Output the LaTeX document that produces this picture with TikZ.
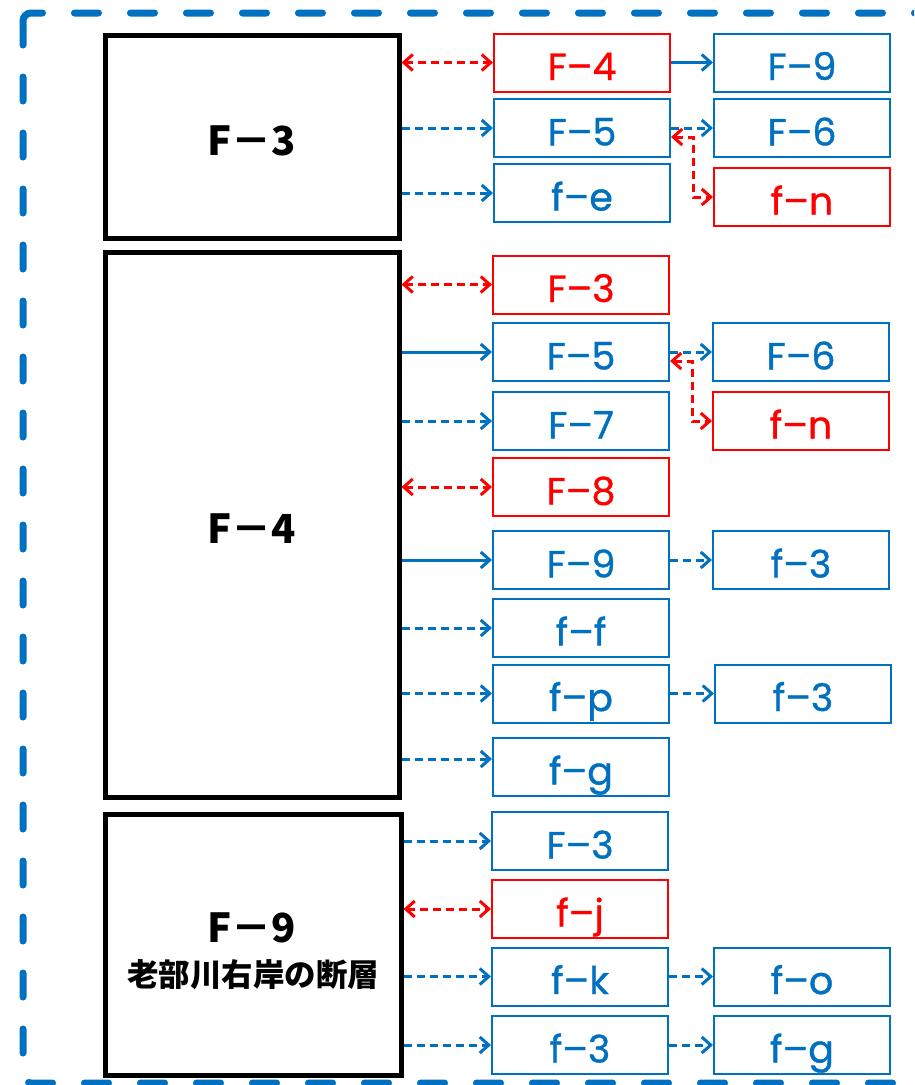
\documentclass[tikz,border=0pt]{standalone}
\usepackage{fontspec}
\setmainfont{Noto Sans CJK JP}
\newfontfamily\labelfont[FakeBold=1]{Poppins}
\usepackage{tikz}
\usepackage{xcolor}
\usetikzlibrary{arrows.meta, positioning}
\definecolor{faultBlue}{RGB}{0,112,192}
\definecolor{faultRed}{RGB}{255,0,0}
\tikzset{
    mainbox/.style={
        rectangle,
        draw=black,
        line width=5pt,
        minimum width=294pt,
        align=center,
        text height=38pt,
        font=\fontsize{40}{46}\selectfont\bfseries
    },
    bluebox/.style={
        rectangle,
        draw=faultBlue,
        line width=2pt,
        text=faultBlue,
        minimum width=176pt,
        minimum height=58pt,
        text height=35pt,
        text depth=0pt,
        font=\labelfont\fontsize{38}{38}\selectfont
    },
    redbox/.style={bluebox, draw=faultRed, text=faultRed},
    solidarrow/.style={-{Straight Barb[length=9pt,width=16pt]}, line width=3pt, draw=faultBlue},
    dasharrow/.style={solidarrow, dash pattern=on 8pt off 5pt},
    redarrow/.style={{Straight Barb[length=9pt,width=16pt]}-{Straight Barb[length=9pt,width=16pt]}, line width=3pt, draw=faultRed, dash pattern=on 8pt off 5pt},
    frameline/.style={draw=faultBlue, line width=7pt, line cap=round, dash pattern=on 24pt off 32pt, rounded corners=8pt}
}

\begin{document}
\begin{tikzpicture}[x=1pt, y=-1pt, node distance=42pt]
    \clip (0,0) rectangle (914,1085);
    \draw[frameline] (23,13) rectangle (960,1083);

    \node[mainbox, minimum height=203pt] (F3main) at (252,136.5) {F－3};
    \node[mainbox, minimum height=545pt] (F4main) at (252,524.5) {F－4};
    \node[mainbox, minimum height=261pt, minimum width=296pt] (F9main) at (253,944.5) {};
    \node[font=\fontsize{40}{46}\selectfont\bfseries] (F9label) at (252,928) {F－9};
    \node[font=\fontsize{31.5}{31.5}\selectfont\bfseries] (F9place) at (253,975) {老部川右岸の断層};

    \node[redbox] (s1F4) at (582,62.5) {F–4};
    \node[bluebox, right=of s1F4] (s1F9) {F–9};
    \node[bluebox] (s1F5) at (582,128) {F–5};
    \node[bluebox, right=of s1F5] (s1F6) {F–6};
    \node[bluebox] (s1fe) at (582,193) {f–e};
    \node[redbox, below=9pt of s1F6] (s1fn) {f–n};
    \draw[redarrow] (F3main.east |- s1F4.west) -- (s1F4.west);
    \draw[dasharrow] (F3main.east |- s1F5.west) -- (s1F5.west);
    \draw[dasharrow] (F3main.east |- s1fe.west) -- (s1fe.west);
    \draw[solidarrow] (s1F4) -- (s1F9);
    \draw[dasharrow] (s1F5) -- (s1F6);
    \draw[redarrow] ([yshift=-9pt]s1F5.east) -- ++(22,0) |- (s1fn.west);

    \node[redbox] (s2F3) at (581,284.5) {F–3};
    \node[bluebox] (s2F5) at (581,352) {F–5};
    \node[bluebox, right=of s2F5] (s2F6) {F–6};
    \node[redbox, below=9pt of s2F6] (s2fn) {f–n};
    \node[bluebox] (s2F7) at (581,421) {F–7};
    \node[redbox] (s2F8) at (581,487) {F–8};
    \node[bluebox] (s2F9) at (581,560) {F–9};
    \node[bluebox, right=of s2F9] (s2f3a) {f–3};
    \node[bluebox] (s2ff) at (581,628) {f–f};
    \node[bluebox] (s2fp) at (581,693.5) {f–p};
    \node[bluebox, right=44pt of s2fp] (s2f3b) {f–3};
    \node[bluebox] (s2fg) at (581,767) {f–g};
    \coordinate (s2fgin) at ([yshift=8pt]s2fg.west);
    \draw[redarrow] (F4main.east |- s2F3.west) -- (s2F3.west);
    \draw[solidarrow] (F4main.east |- s2F5.west) -- (s2F5.west);
    \draw[dasharrow] (F4main.east |- s2F7.west) -- (s2F7.west);
    \draw[redarrow] (F4main.east |- s2F8.west) -- (s2F8.west);
    \draw[solidarrow] (F4main.east |- s2F9.west) -- (s2F9.west);
    \draw[dasharrow] (F4main.east |- s2ff.west) -- (s2ff.west);
    \draw[dasharrow] (F4main.east |- s2fp.west) -- (s2fp.west);
    \draw[dasharrow] (F4main.east |- s2fgin) -- (s2fgin);
    \draw[dasharrow] (s2F5) -- (s2F6);
    \draw[redarrow] ([yshift=-9pt]s2F5.east) -- ++(22,0) |- (s2fn.west);
    \draw[dasharrow] (s2F9) -- (s2f3a);
    \draw[dasharrow] (s2fp) -- (s2f3b);

    \node[bluebox] (s3F3) at (580,841) {F–3};
    \node[redbox] (s3fj) at (580,909) {f–j};
    \node[bluebox] (s3fk) at (580,976.5) {f–k};
    \node[bluebox, right=44pt of s3fk] (s3fo) {f–o};
    \node[bluebox] (s3f3) at (580,1045) {f–3};
    \node[bluebox, right=44pt of s3f3] (s3fg) {f–g};
    \draw[dasharrow] (F9main.east |- s3F3.west) -- (s3F3.west);
    \draw[redarrow] (F9main.east |- s3fj.west) -- (s3fj.west);
    \draw[dasharrow] (F9main.east |- s3fk.west) -- (s3fk.west);
    \draw[dasharrow] (F9main.east |- s3f3.west) -- (s3f3.west);
    \draw[dasharrow] (s3fk) -- (s3fo);
    \draw[dasharrow] (s3f3) -- (s3fg);
\end{tikzpicture}
\end{document}
